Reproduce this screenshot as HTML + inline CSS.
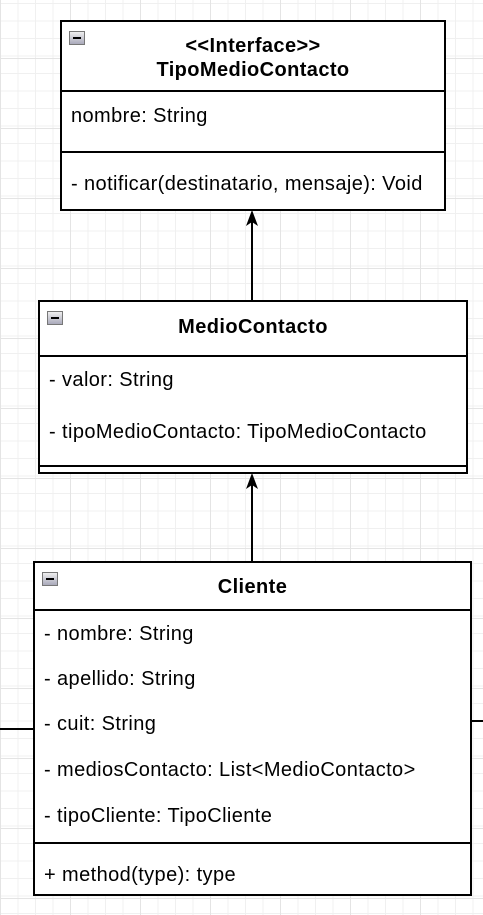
<!DOCTYPE html>
<html><head><meta charset="utf-8"><style>
body{margin:0;width:483px;height:915px;overflow:hidden;font-family:"Liberation Sans",sans-serif;
background-color:#fff;
background-image:linear-gradient(#e4e4e4 1px,transparent 1px),linear-gradient(90deg,#e4e4e4 1px,transparent 1px),linear-gradient(#f0f0f0 1px,transparent 1px),linear-gradient(90deg,#f0f0f0 1px,transparent 1px);
background-size:70px 70px,70px 70px,17.5px 17.5px,17.5px 17.5px;
background-position:0 -12px,0 0,0 3px,0 0;position:relative}
.b{position:absolute;border:2px solid #000;background:#fff;box-sizing:border-box}
.h{position:absolute;left:0;right:0;border-bottom:2px solid #000;text-align:center;font-weight:bold;font-size:20px;letter-spacing:0.4px}
.m{position:absolute;width:16px;height:14px;border:1px solid #777;background:linear-gradient(#eee,#aab);box-sizing:border-box}
.m:after{content:"";position:absolute;left:3px;right:3px;top:5px;height:2px;background:#000}
.t{position:absolute;font-size:20px;letter-spacing:0.4px;white-space:nowrap}
.l{position:absolute;left:0;right:0;border-top:2px solid #000}
</style></head><body>
<svg width="483" height="915" style="position:absolute;left:0;top:0">
<line x1="252" y1="301" x2="252" y2="218" stroke="#000" stroke-width="2"/>
<polygon points="252,210 246,226 252,222 258,226" fill="#000"/>
<line x1="252" y1="562" x2="252" y2="481" stroke="#000" stroke-width="2"/>
<polygon points="252,473 246,489 252,485 258,489" fill="#000"/>
<line x1="0" y1="729" x2="34" y2="729" stroke="#000" stroke-width="2"/>
<line x1="471" y1="721" x2="483" y2="721" stroke="#000" stroke-width="2"/>
</svg>
<div class="b" style="left:60px;top:20px;width:386px;height:191px">
<div class="h" style="top:0;height:70px;line-height:24px;padding-top:12px;box-sizing:border-box">&lt;&lt;Interface&gt;&gt;<br>TipoMedioContacto</div>
<div class="m" style="left:7px;top:9px"></div>
<div class="t" style="left:9px;top:83px">nombre: String</div>
<div class="l" style="top:129px"></div>
<div class="t" style="left:9px;top:151px">- notificar(destinatario, mensaje): Void</div>
</div>
<div class="b" style="left:38px;top:300px;width:430px;height:174px">
<div class="h" style="top:0;height:53px;line-height:50px">MedioContacto</div>
<div class="m" style="left:7px;top:9px"></div>
<div class="t" style="left:9px;top:67px">- valor: String</div>
<div class="t" style="left:9px;top:119px">- tipoMedioContacto: TipoMedioContacto</div>
<div class="l" style="top:163px"></div>
</div>
<div class="b" style="left:33px;top:561px;width:439px;height:335px">
<div class="h" style="top:0;height:46px;line-height:48px">Cliente</div>
<div class="m" style="left:7px;top:9px"></div>
<div class="t" style="left:9px;top:60px">- nombre: String</div>
<div class="t" style="left:9px;top:105px">- apellido: String</div>
<div class="t" style="left:9px;top:150px">- cuit: String</div>
<div class="t" style="left:9px;top:196px">- mediosContacto: List&lt;MedioContacto&gt;</div>
<div class="t" style="left:9px;top:242px">- tipoCliente: TipoCliente</div>
<div class="l" style="top:279px"></div>
<div class="t" style="left:9px;top:301px">+ method(type): type</div>
</div>
</body></html>
